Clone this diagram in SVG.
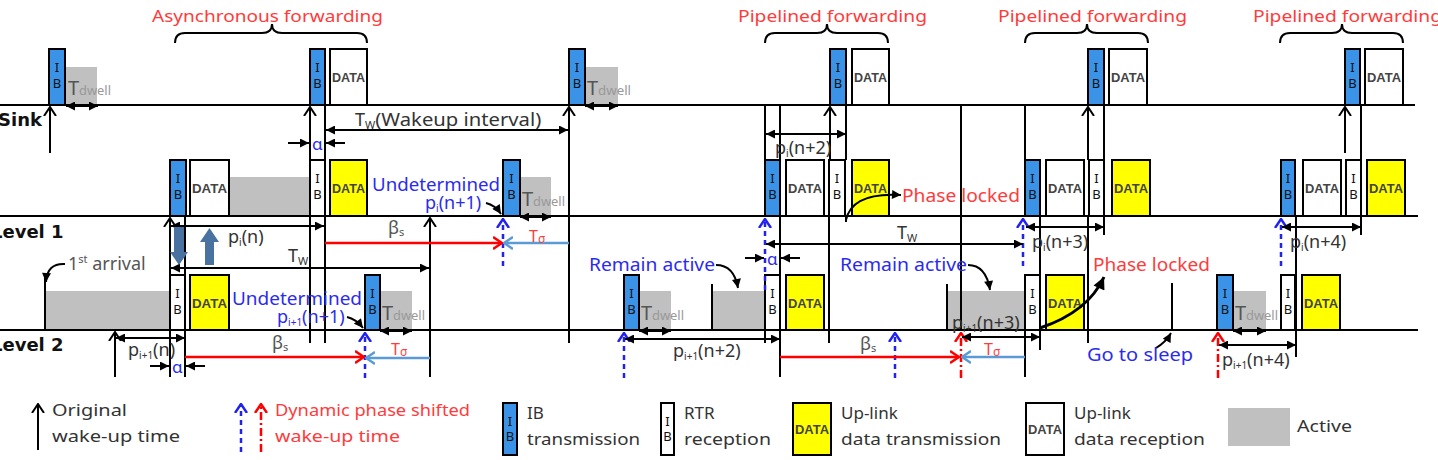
<svg xmlns="http://www.w3.org/2000/svg" width="1438" height="460" viewBox="0 0 1438 460">
<style>
.ln{stroke:#000;stroke-width:2;fill:none}
.bd{stroke:#2222ee;stroke-width:2.5;fill:none;stroke-dasharray:5,4}
.rd{stroke:#ff0000;stroke-width:2.5;fill:none;stroke-dasharray:8,3,2,3}
.rl{stroke:#ff0000;stroke-width:2.5;fill:none}
.sl{stroke:#5b9bd5;stroke-width:2.5;fill:none}
.ibb{fill:#3a93e6;stroke:#000;stroke-width:2}
.ibw{fill:#fff;stroke:#000;stroke-width:2}
.dy{fill:#ffff00;stroke:#000;stroke-width:2}
.dw{fill:#fff;stroke:#000;stroke-width:2}
.act{fill:#c0c0c0}
text{font-family:"Noto Sans","DejaVu Sans",sans-serif}
.ibt{font-size:13px;fill:#111;text-anchor:middle}
.dt{font-family:"Liberation Sans",sans-serif;font-size:13px;font-weight:bold;fill:#444}
.tT{font-size:20px;fill:#555}
.tdw{font-size:12px;fill:#999}
.lv{font-family:"DejaVu Sans",sans-serif;font-weight:bold;font-size:18px;fill:#111}
.red{fill:#ff3b3b}
.blu{fill:#2b2bf0}
.dk{fill:#333}
.l16{font-size:17px}
</style>
<defs>
<marker id="tri" viewBox="0 0 10 10" refX="10" refY="5" markerWidth="10" markerHeight="9" markerUnits="userSpaceOnUse" orient="auto-start-reverse"><path d="M0,0 L10,5 L0,10 z" fill="#000"/></marker>
<marker id="triB" viewBox="0 0 10 10" refX="10" refY="5" markerWidth="13" markerHeight="12" markerUnits="userSpaceOnUse" orient="auto"><path d="M0,0 L10,5 L0,10 z" fill="#000"/></marker>
<marker id="chk" viewBox="0 0 10 14" refX="9" refY="7" markerWidth="10" markerHeight="14" markerUnits="userSpaceOnUse" orient="auto"><path d="M0,1 L9,7 L0,13" fill="none" stroke="#000" stroke-width="2"/></marker>
<marker id="chb" viewBox="0 0 10 14" refX="9" refY="7" markerWidth="10" markerHeight="14" markerUnits="userSpaceOnUse" orient="auto"><path d="M0,1 L9,7 L0,13" fill="none" stroke="#2222ee" stroke-width="2.5"/></marker>
<marker id="chr" viewBox="0 0 10 14" refX="9" refY="7" markerWidth="10" markerHeight="14" markerUnits="userSpaceOnUse" orient="auto"><path d="M0,1 L9,7 L0,13" fill="none" stroke="#ff0000" stroke-width="2.5"/></marker>
<marker id="chs" viewBox="0 0 10 14" refX="9" refY="7" markerWidth="10" markerHeight="14" markerUnits="userSpaceOnUse" orient="auto"><path d="M0,1 L9,7 L0,13" fill="none" stroke="#5b9bd5" stroke-width="2.5"/></marker>
</defs>

<rect width="1438" height="460" fill="#fff"/>

<!-- Active (gray) periods -->
<g id="active">
<rect class="act" x="66" y="67" width="31" height="38"/>
<rect class="act" x="585" y="67" width="33" height="38"/>
<rect class="act" x="229" y="177" width="81" height="39"/>
<rect class="act" x="520" y="177" width="31" height="39"/>
<rect class="act" x="45" y="291" width="125" height="39"/>
<rect class="act" x="380" y="291" width="32" height="39"/>
<rect class="act" x="639" y="291" width="32" height="39"/>
<rect class="act" x="712" y="291" width="53" height="39"/>
<rect class="act" x="947" y="291" width="78" height="39"/>
<rect class="act" x="1233" y="291" width="33" height="39"/>
</g>

<!-- Sink row -->
<g id="sink-ib1"><rect class="ibb" x="49" y="49" width="16" height="56"/><text class="ibt" x="57" y="72">I</text><text class="ibt" x="57" y="88">B</text></g>
<g id="sink-ib2"><rect class="ibb" x="310" y="49" width="15" height="56"/><text class="ibt" x="317.5" y="72">I</text><text class="ibt" x="317.5" y="88">B</text></g>
<g id="sink-data2"><rect class="dw" x="330" y="49" width="37" height="56"/><text class="dt" x="332" y="82" textLength="33" lengthAdjust="spacingAndGlyphs">DATA</text></g>
<g id="sink-ib3"><rect class="ibb" x="569" y="49" width="16" height="56"/><text class="ibt" x="577" y="72">I</text><text class="ibt" x="577" y="88">B</text></g>
<g id="sink-ib4"><rect class="ibb" x="830" y="49" width="16" height="56"/><text class="ibt" x="838" y="72">I</text><text class="ibt" x="838" y="88">B</text></g>
<g id="sink-data4"><rect class="dw" x="852" y="49" width="37" height="56"/><text class="dt" x="854" y="82" textLength="33" lengthAdjust="spacingAndGlyphs">DATA</text></g>
<g id="sink-ib5"><rect class="ibb" x="1088" y="49" width="16" height="56"/><text class="ibt" x="1096" y="72">I</text><text class="ibt" x="1096" y="88">B</text></g>
<g id="sink-data5"><rect class="dw" x="1109" y="49" width="38" height="56"/><text class="dt" x="1111" y="82" textLength="34" lengthAdjust="spacingAndGlyphs">DATA</text></g>
<g id="sink-ib6"><rect class="ibb" x="1345" y="49" width="15" height="56"/><text class="ibt" x="1352.5" y="72">I</text><text class="ibt" x="1352.5" y="88">B</text></g>
<g id="sink-data6"><rect class="dw" x="1365" y="49" width="38" height="56"/><text class="dt" x="1367" y="82" textLength="34" lengthAdjust="spacingAndGlyphs">DATA</text></g>

<!-- Level 1 row -->
<g id="l1-ib1"><rect class="ibb" x="170" y="160" width="16" height="56"/><text class="ibt" x="178" y="183">I</text><text class="ibt" x="178" y="199">B</text></g>
<g id="l1-data1"><rect class="dw" x="190" y="160" width="39" height="56"/><text class="dt" x="192" y="193" textLength="35" lengthAdjust="spacingAndGlyphs">DATA</text></g>
<g id="l1-rtr1"><rect class="ibw" x="310" y="160" width="15" height="56"/><text class="ibt" x="317.5" y="183">I</text><text class="ibt" x="317.5" y="199">B</text></g>
<g id="l1-up1"><rect class="dy" x="330" y="160" width="37" height="56"/><text class="dt" x="332" y="193" textLength="33" lengthAdjust="spacingAndGlyphs">DATA</text></g>
<g id="l1-ib2"><rect class="ibb" x="503" y="160" width="17" height="56"/><text class="ibt" x="511.5" y="183">I</text><text class="ibt" x="511.5" y="199">B</text></g>
<g id="l1-ib3"><rect class="ibb" x="765" y="160" width="15" height="56"/><text class="ibt" x="772.5" y="183">I</text><text class="ibt" x="772.5" y="199">B</text></g>
<g id="l1-data3"><rect class="dw" x="786" y="160" width="38" height="56"/><text class="dt" x="788" y="193" textLength="34" lengthAdjust="spacingAndGlyphs">DATA</text></g>
<g id="l1-rtr3"><rect class="ibw" x="829" y="160" width="16" height="56"/><text class="ibt" x="837" y="183">I</text><text class="ibt" x="837" y="199">B</text></g>
<g id="l1-up3"><rect class="dy" x="852" y="160" width="37" height="56"/><text class="dt" x="854" y="193" textLength="33" lengthAdjust="spacingAndGlyphs">DATA</text></g>
<g id="l1-ib4"><rect class="ibb" x="1025" y="160" width="15" height="56"/><text class="ibt" x="1032.5" y="183">I</text><text class="ibt" x="1032.5" y="199">B</text></g>
<g id="l1-data4"><rect class="dw" x="1046" y="160" width="38" height="56"/><text class="dt" x="1048" y="193" textLength="34" lengthAdjust="spacingAndGlyphs">DATA</text></g>
<g id="l1-rtr4"><rect class="ibw" x="1089" y="160" width="15" height="56"/><text class="ibt" x="1096.5" y="183">I</text><text class="ibt" x="1096.5" y="199">B</text></g>
<g id="l1-up4"><rect class="dy" x="1112" y="160" width="38" height="56"/><text class="dt" x="1114" y="193" textLength="34" lengthAdjust="spacingAndGlyphs">DATA</text></g>
<g id="l1-ib5"><rect class="ibb" x="1281" y="160" width="14" height="56"/><text class="ibt" x="1288" y="183">I</text><text class="ibt" x="1288" y="199">B</text></g>
<g id="l1-data5"><rect class="dw" x="1303" y="160" width="38" height="56"/><text class="dt" x="1305" y="193" textLength="34" lengthAdjust="spacingAndGlyphs">DATA</text></g>
<g id="l1-rtr5"><rect class="ibw" x="1346" y="160" width="15" height="56"/><text class="ibt" x="1353.5" y="183">I</text><text class="ibt" x="1353.5" y="199">B</text></g>
<g id="l1-up5"><rect class="dy" x="1367" y="160" width="38" height="56"/><text class="dt" x="1369" y="193" textLength="34" lengthAdjust="spacingAndGlyphs">DATA</text></g>

<!-- Level 2 row -->
<g id="l2-rtr1"><rect class="ibw" x="170" y="275" width="15" height="55"/><text class="ibt" x="177.5" y="298">I</text><text class="ibt" x="177.5" y="314">B</text></g>
<g id="l2-up1"><rect class="dy" x="190" y="275" width="39" height="55"/><text class="dt" x="192" y="308" textLength="35" lengthAdjust="spacingAndGlyphs">DATA</text></g>
<g id="l2-ib2"><rect class="ibb" x="365" y="275" width="15" height="55"/><text class="ibt" x="372.5" y="298">I</text><text class="ibt" x="372.5" y="314">B</text></g>
<g id="l2-ib3"><rect class="ibb" x="624" y="275" width="15" height="55"/><text class="ibt" x="631.5" y="298">I</text><text class="ibt" x="631.5" y="314">B</text></g>
<g id="l2-rtr4"><rect class="ibw" x="765" y="275" width="15" height="55"/><text class="ibt" x="772.5" y="298">I</text><text class="ibt" x="772.5" y="314">B</text></g>
<g id="l2-up4"><rect class="dy" x="786" y="275" width="38" height="55"/><text class="dt" x="788" y="308" textLength="34" lengthAdjust="spacingAndGlyphs">DATA</text></g>
<g id="l2-rtr5"><rect class="ibw" x="1025" y="275" width="15" height="55"/><text class="ibt" x="1032.5" y="298">I</text><text class="ibt" x="1032.5" y="314">B</text></g>
<g id="l2-up5"><rect class="dy" x="1046" y="275" width="38" height="55"/><text class="dt" x="1048" y="308" textLength="34" lengthAdjust="spacingAndGlyphs">DATA</text></g>
<g id="l2-ib6"><rect class="ibb" x="1217" y="275" width="16" height="55"/><text class="ibt" x="1225" y="298">I</text><text class="ibt" x="1225" y="314">B</text></g>
<g id="l2-rtr7"><rect class="ibw" x="1281" y="275" width="14" height="55"/><text class="ibt" x="1288" y="298">I</text><text class="ibt" x="1288" y="314">B</text></g>
<g id="l2-up7"><rect class="dy" x="1302" y="275" width="38" height="55"/><text class="dt" x="1304" y="308" textLength="34" lengthAdjust="spacingAndGlyphs">DATA</text></g>

<!-- Connectors -->
<g id="connectors">
<!-- time lines -->
<path class="ln" d="M0,105 H1415"/>
<path class="ln" d="M0,216 H1418"/>
<path class="ln" d="M0,330 H1418"/>
<!-- braces -->
<path class="ln" d="M175,43 Q175,33 185,33 H262 Q272,33 272,24 Q272,33 282,33 H357 Q367,33 367,43"/>
<path class="ln" d="M765,43 Q765,33 775,33 H817 Q827,33 827,24 Q827,33 837,33 H878 Q888,33 888,43"/>
<path class="ln" d="M1025,43 Q1025,33 1035,33 H1077 Q1087,33 1087,24 Q1087,33 1097,33 H1138 Q1148,33 1148,43"/>
<path class="ln" d="M1280,43 Q1280,33 1290,33 H1332 Q1342,33 1342,24 Q1342,33 1352,33 H1393 Q1403,33 1403,43"/>
<!-- original wake-up arrows (black) -->
<path class="ln" d="M50,153 V107" marker-end="url(#chk)"/>
<path class="ln" d="M310,343 V107" marker-end="url(#chk)"/>
<path class="ln" d="M569,343 V107" marker-end="url(#chk)"/>
<path class="ln" d="M830,160 V107" marker-end="url(#chk)"/>
<path class="ln" d="M1088,160 V107" marker-end="url(#chk)"/>
<path class="ln" d="M1345,153 V107" marker-end="url(#chk)"/>
<path class="ln" d="M170,377 V218" marker-end="url(#chk)"/>
<path class="ln" d="M430,377 V218" marker-end="url(#chk)"/>
<path class="ln" d="M115,377 V332" marker-end="url(#chk)"/>
<!-- plain vertical lines -->
<path class="ln" d="M325,105 V343"/>
<path class="ln" d="M185,216 V377"/>
<path class="ln" d="M45,273 V330"/>
<path class="ln" d="M765,105 V160 M765,330 V343"/>
<path class="ln" d="M780,105 V160 M780,216 V377"/>
<path class="ln" d="M829,216 V343"/>
<path class="ln" d="M846,105 V160 M846,216 V222"/>
<path class="ln" d="M712,284 V330"/>
<path class="ln" d="M961,105 V330"/>
<path class="ln" d="M947,284 V330"/>
<path class="ln" d="M1025,105 V160 M1025,330 V377"/>
<path class="ln" d="M1040,216 V350"/>
<path class="ln" d="M1088,216 V343"/>
<path class="ln" d="M1104,105 V160 M1104,216 V235"/>
<path class="ln" d="M1172,283 V330"/>
<path class="ln" d="M1296,216 V357"/>
<path class="ln" d="M1361,105 V160 M1361,216 V235"/>
<!-- dynamic phase shifted wake-ups -->
<path class="bd" d="M503,266 V219" marker-end="url(#chb)"/>
<path class="bd" d="M365,378 V333" marker-end="url(#chb)"/>
<path class="bd" d="M765,290 V219" marker-end="url(#chb)"/>
<path class="bd" d="M624,378 V333" marker-end="url(#chb)"/>
<path class="bd" d="M895,378 V333" marker-end="url(#chb)"/>
<path class="bd" d="M1023,266 V219" marker-end="url(#chb)"/>
<path class="bd" d="M1281,266 V219" marker-end="url(#chb)"/>
<path class="rd" d="M961,378 V333" marker-end="url(#chr)"/>
<path class="rd" d="M1218,378 V333" marker-end="url(#chr)"/>
<!-- Tdwell arrows -->
<path class="ln" d="M66,106 H98" marker-start="url(#tri)" marker-end="url(#tri)"/>
<path class="ln" d="M585,106 H618" marker-start="url(#tri)" marker-end="url(#tri)"/>
<path class="ln" d="M520,217 H551" marker-start="url(#tri)" marker-end="url(#tri)"/>
<path class="ln" d="M380,331 H412" marker-start="url(#tri)" marker-end="url(#tri)"/>
<path class="ln" d="M639,331 H671" marker-start="url(#tri)" marker-end="url(#tri)"/>
<path class="ln" d="M1233,331 H1266" marker-start="url(#tri)" marker-end="url(#tri)"/>
<!-- interval arrows -->
<path class="ln" d="M326,130 H568" marker-start="url(#tri)" marker-end="url(#tri)"/>
<path class="ln" d="M766,134 H846" marker-start="url(#tri)" marker-end="url(#tri)"/>
<path class="ln" d="M171,226 H324" marker-start="url(#tri)" marker-end="url(#tri)"/>
<path class="ln" d="M171,268 H429" marker-start="url(#tri)" marker-end="url(#tri)"/>
<path class="ln" d="M766,244 H1023" marker-start="url(#tri)" marker-end="url(#tri)"/>
<path class="ln" d="M1026,227 H1104" marker-start="url(#tri)" marker-end="url(#tri)"/>
<path class="ln" d="M1282,227 H1361" marker-start="url(#tri)" marker-end="url(#tri)"/>
<path class="ln" d="M116,338 H185" marker-start="url(#tri)" marker-end="url(#tri)"/>
<path class="ln" d="M625,339 H780" marker-start="url(#tri)" marker-end="url(#tri)"/>
<path class="ln" d="M962,337 H1040" marker-start="url(#tri)" marker-end="url(#tri)"/>
<path class="ln" d="M1219,345 H1296" marker-start="url(#tri)" marker-end="url(#tri)"/>
<!-- alpha arrows -->
<path class="ln" d="M288,143 H309" marker-end="url(#tri)"/>
<path class="ln" d="M345,143 H326" marker-end="url(#tri)"/>
<path class="ln" d="M745,258 H764" marker-end="url(#tri)"/>
<path class="ln" d="M800,258 H781" marker-end="url(#tri)"/>
<path class="ln" d="M150,366 H169" marker-end="url(#tri)"/>
<path class="ln" d="M205,366 H186" marker-end="url(#tri)"/>
<!-- beta_s (red) and T_sigma (steel blue) -->
<path class="rl" d="M325,243 H502" marker-end="url(#chr)"/>
<path class="sl" d="M569,243 H504" marker-end="url(#chs)"/>
<path class="rl" d="M185,357 H364" marker-end="url(#chr)"/>
<path class="sl" d="M430,358 H366" marker-end="url(#chs)"/>
<path class="rl" d="M780,357 H959" marker-end="url(#chr)"/>
<path class="sl" d="M1025,357 H962" marker-end="url(#chs)"/>
<!-- curved pointer arrows -->
<path class="ln" d="M65,264 Q47,263 46,282" marker-end="url(#tri)"/>
<path class="ln" d="M486,203 Q495,205 501,214" marker-end="url(#tri)"/>
<path class="ln" d="M347,317 Q356,319 363,328" marker-end="url(#tri)"/>
<path class="ln" d="M716,265 Q734,265 738,288" marker-end="url(#tri)"/>
<path class="ln" d="M968,265 Q986,265 990,290" marker-end="url(#tri)"/>
<path class="ln" d="M846,220 Q852,192 901,195" marker-end="url(#tri)"/>
<path d="M1040,328 Q1088,312 1104,277" fill="none" stroke="#000" stroke-width="3" marker-end="url(#triB)"/>
<path class="ln" d="M1156,348 Q1166,342 1171,333" marker-end="url(#tri)"/>
<!-- thick phase-shift arrows -->
<path d="M174,227 H184 V252 H188 L179,265 L170,252 H174 Z" fill="#4a72a0"/>
<path d="M205,265 H214 V242 H219 L209.5,228 L200,242 H205 Z" fill="#4a72a0"/>
</g>

<!-- Labels -->
<g id="labels">
<text class="lv" x="-2" y="126">Sink</text>
<text class="lv" x="-9" y="238">Level 1</text>
<text class="lv" x="-9" y="351">Level 2</text>

<text class="red" x="152" y="22" font-size="17" textLength="231" lengthAdjust="spacingAndGlyphs">Asynchronous forwarding</text>
<text class="red" x="738" y="22" font-size="17" textLength="189" lengthAdjust="spacingAndGlyphs">Pipelined forwarding</text>
<text class="red" x="998" y="22" font-size="17" textLength="189" lengthAdjust="spacingAndGlyphs">Pipelined forwarding</text>
<text class="red" x="1253" y="22" font-size="17" textLength="189" lengthAdjust="spacingAndGlyphs">Pipelined forwarding</text>

<!-- Tdwell labels -->
<text class="tT" x="68" y="95">T</text><text class="tdw" x="79" y="95" textLength="32" lengthAdjust="spacingAndGlyphs">dwell</text>
<text class="tT" x="587" y="95">T</text><text class="tdw" x="598" y="95" textLength="33" lengthAdjust="spacingAndGlyphs">dwell</text>
<text class="tT" x="522" y="206">T</text><text class="tdw" x="533" y="206" textLength="32" lengthAdjust="spacingAndGlyphs">dwell</text>
<text class="tT" x="382" y="320">T</text><text class="tdw" x="393" y="320" textLength="32" lengthAdjust="spacingAndGlyphs">dwell</text>
<text class="tT" x="641" y="320">T</text><text class="tdw" x="652" y="320" textLength="32" lengthAdjust="spacingAndGlyphs">dwell</text>
<text class="tT" x="1235" y="320">T</text><text class="tdw" x="1246" y="320" textLength="32" lengthAdjust="spacingAndGlyphs">dwell</text>

<text class="dk" x="355" y="126" font-size="18">T<tspan font-size="11" dy="3">W</tspan><tspan dy="-3" textLength="166" lengthAdjust="spacingAndGlyphs">(Wakeup interval)</tspan></text>
<text class="blu" x="312" y="150" font-size="17" font-family="Liberation Serif">α</text>
<text class="blu" x="767" y="265" font-size="17" font-family="Liberation Serif">α</text>
<text class="blu" x="172" y="373" font-size="17" font-family="Liberation Serif">α</text>

<text class="dk" x="775" y="154" font-size="18">p<tspan font-size="10" dy="3">i</tspan><tspan dy="-3">(n+2)</tspan></text>
<text class="dk" x="228" y="243" font-size="18">p<tspan font-size="10" dy="3">i</tspan><tspan dy="-3">(n)</tspan></text>
<text class="dk" x="288" y="262" font-size="18">T<tspan font-size="11" dy="3">W</tspan></text>
<text class="dk" x="897" y="239" font-size="18">T<tspan font-size="11" dy="3">W</tspan></text>
<text class="dk" x="1032" y="248" font-size="18">p<tspan font-size="10" dy="3">i</tspan><tspan dy="-3">(n+3)</tspan></text>
<text class="dk" x="1290" y="248" font-size="18">p<tspan font-size="10" dy="3">i</tspan><tspan dy="-3">(n+4)</tspan></text>

<text class="blu" x="372" y="191" font-size="18" textLength="128" lengthAdjust="spacingAndGlyphs">Undetermined</text>
<text class="blu" x="425" y="209" font-size="18">p<tspan font-size="10" dy="3">i</tspan><tspan dy="-3">(n+1)</tspan></text>
<text class="blu" x="232" y="305" font-size="18" textLength="130" lengthAdjust="spacingAndGlyphs">Undetermined</text>
<text class="blu" x="277" y="323" font-size="18">p<tspan font-size="10" dy="3">i+1</tspan><tspan dy="-3">(n+1)</tspan></text>

<text fill="#555" x="388" y="234" font-size="18">β<tspan font-size="11" dy="2">s</tspan></text>
<text fill="#555" x="272" y="349" font-size="18">β<tspan font-size="11" dy="2">s</tspan></text>
<text fill="#555" x="860" y="350" font-size="18">β<tspan font-size="11" dy="2">s</tspan></text>
<text class="red" x="529" y="242" font-size="16">T<tspan font-size="12" dy="1">σ</tspan></text>
<text class="red" x="391" y="355" font-size="16">T<tspan font-size="12" dy="1">σ</tspan></text>
<text class="red" x="984" y="355" font-size="16">T<tspan font-size="12" dy="1">σ</tspan></text>

<text fill="#555" x="68" y="270" font-size="18">1<tspan font-size="11" dy="-7">st</tspan><tspan dy="7"> arrival</tspan></text>
<text class="dk" x="128" y="356" font-size="18">p<tspan font-size="10" dy="3">i+1</tspan><tspan dy="-3">(n)</tspan></text>
<text class="dk" x="673" y="357" font-size="18">p<tspan font-size="10" dy="3">i+1</tspan><tspan dy="-3">(n+2)</tspan></text>
<text class="dk" x="952" y="329" font-size="18">p<tspan font-size="10" dy="3">i+1</tspan><tspan dy="-3">(n+3)</tspan></text>
<text class="dk" x="1222" y="366" font-size="18">p<tspan font-size="10" dy="3">i+1</tspan><tspan dy="-3">(n+4)</tspan></text>

<text class="blu" x="589" y="271" font-size="18" textLength="126" lengthAdjust="spacingAndGlyphs">Remain active</text>
<text class="blu" x="840" y="271" font-size="18" textLength="127" lengthAdjust="spacingAndGlyphs">Remain active</text>
<text class="red" x="902" y="202" font-size="18" textLength="118" lengthAdjust="spacingAndGlyphs">Phase locked</text>
<text class="red" x="1093" y="271" font-size="18" textLength="117" lengthAdjust="spacingAndGlyphs">Phase locked</text>
<text class="blu" x="1087" y="361" font-size="18" textLength="106" lengthAdjust="spacingAndGlyphs">Go to sleep</text>
</g>

<!-- Legend -->
<g id="legend-original">
<path class="ln" d="M38,450 V404" marker-end="url(#chk)"/>
<text class="dk" x="52" y="416" font-size="17" textLength="75" lengthAdjust="spacingAndGlyphs">Original</text>
<text class="dk" x="52" y="442" font-size="17" textLength="128" lengthAdjust="spacingAndGlyphs">wake-up time</text>
</g>
<g id="legend-dynamic">
<path class="bd" d="M241,452 V404" marker-end="url(#chb)"/>
<path class="rd" d="M261,452 V404" marker-end="url(#chr)"/>
<text class="red" x="275" y="416" font-size="17" textLength="195" lengthAdjust="spacingAndGlyphs">Dynamic phase shifted</text>
<text class="red" x="275" y="442" font-size="17" textLength="125" lengthAdjust="spacingAndGlyphs">wake-up time</text>
</g>
<g id="legend-ib">
<rect class="ibb" x="503" y="403" width="14" height="52"/>
<text class="ibt" x="510" y="426" font-size="12">I</text><text class="ibt" x="510" y="441" font-size="12">B</text>
<text class="dk" x="527" y="419" font-size="17">IB</text>
<text class="dk" x="527" y="445" font-size="17" textLength="113" lengthAdjust="spacingAndGlyphs">transmission</text>
</g>
<g id="legend-rtr">
<rect class="ibw" x="661" y="403" width="13" height="52"/>
<text class="ibt" x="667.5" y="426" font-size="12">I</text><text class="ibt" x="667.5" y="441" font-size="12">B</text>
<text class="dk" x="684" y="419" font-size="17">RTR</text>
<text class="dk" x="684" y="445" font-size="17" textLength="87" lengthAdjust="spacingAndGlyphs">reception</text>
</g>
<g id="legend-uptx">
<rect class="dy" x="793" y="403" width="38" height="52"/>
<text class="dt" x="795" y="434" font-size="12" textLength="34" lengthAdjust="spacingAndGlyphs">DATA</text>
<text class="dk" x="841" y="419" font-size="17">Up-link</text>
<text class="dk" x="841" y="445" font-size="17" textLength="160" lengthAdjust="spacingAndGlyphs">data transmission</text>
</g>
<g id="legend-uprx">
<rect class="dw" x="1026" y="403" width="38" height="52"/>
<text class="dt" x="1028" y="434" font-size="12" textLength="34" lengthAdjust="spacingAndGlyphs">DATA</text>
<text class="dk" x="1074" y="419" font-size="17">Up-link</text>
<text class="dk" x="1074" y="445" font-size="17" textLength="131" lengthAdjust="spacingAndGlyphs">data reception</text>
</g>
<g id="legend-active">
<rect class="act" x="1228" y="408" width="62" height="38"/>
<text class="dk" x="1297" y="432" font-size="17" textLength="55" lengthAdjust="spacingAndGlyphs">Active</text>
</g>
</svg>
